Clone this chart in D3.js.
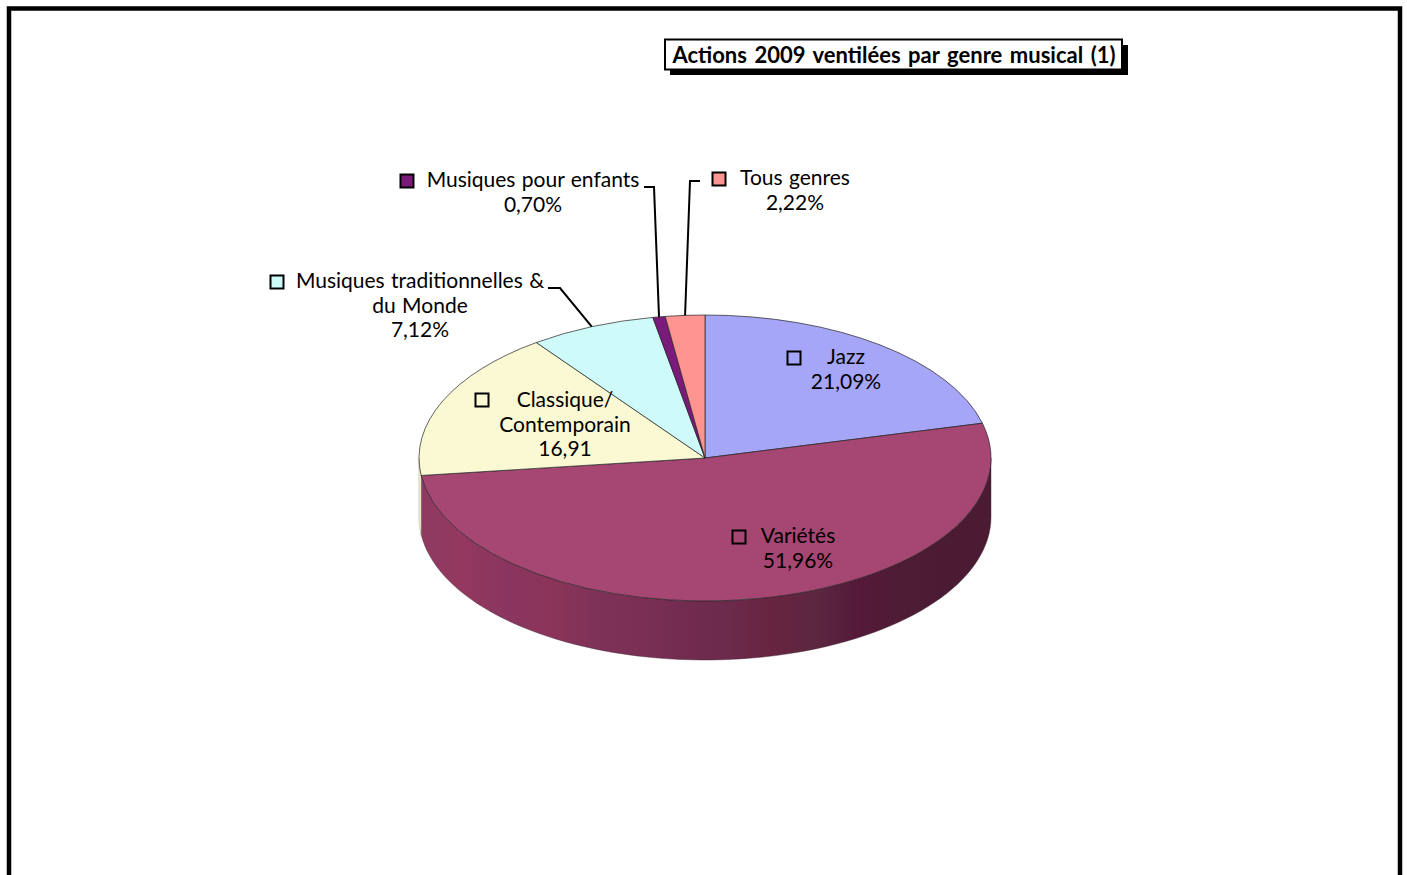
<!DOCTYPE html>
<html>
<head>
<meta charset="utf-8">
<script src="https://cdn.jsdelivr.net/npm/d3@7"></script>
<style>
  body { margin: 0; background: white; }
  svg { display: block; }
  text { font-family: "Comic Sans MS", "Lato", sans-serif; fill: #000; }
</style>
</head>
<body>
<div id="chart"></div>
<script>
const chartTitle = "Actions 2009 ventilées par genre musical (1)";
const categories = ["Jazz", "Variétés", "Classique", "Traditionnelles", "Enfants", "Tous genres"];
const values = [21.09, 51.96, 16.91, 7.12, 0.70, 2.22];
const colors = ["#a6a6f8", "#a64672", "#fbf9d3", "#cffafa", "#7a1a7a", "#ff9490"];
const labelLines = [
  ["Jazz", "21,09%"],
  ["Variétés", "51,96%"],
  ["Classique/", "Contemporain", "16,91"],
  ["Musiques traditionnelles &", "du Monde", "7,12%"],
  ["Musiques pour enfants", "0,70%"],
  ["Tous genres", "2,22%"]
];
// band colours of the side wall, left to right
const wallShades = ["#8f3a62", "#93385f", "#8a3560", "#8c3459", "#7e3258", "#7c2f55", "#722c50", "#6c2a4c", "#68243f", "#5c2741", "#55193a", "#4e1c35", "#4a1b33", "#4a1b33"];

const width = 1407, height = 875;
const cx = 705, cy = 458, rx = 286, ry = 143, depth = 59;

// label placement : x centre, first baseline, legend key, leader elbow
const labelPos = [
  { x: 846, y: 364, keyX: 794, keyY: 358 },
  { x: 798, y: 543, keyX: 739, keyY: 537 },
  { x: 565, y: 407, keyX: 482, keyY: 400 },
  { x: 420, y: 288, keyX: 277, keyY: 282, leader: [[548, 288], [560, 288]] },
  { x: 533, y: 187, keyX: 407, keyY: 181, leader: [[644, 187], [654, 187]] },
  { x: 795, y: 185, keyX: 719, keyY: 179, leader: [[700, 181], [690, 181]] }
];

const svg = d3.select("#chart")
  .append("svg")
  .attr("width", width)
  .attr("height", height);

// outer frame, runs off the bottom of the page
svg.append("rect")
  .attr("x", 9)
  .attr("y", 8.5)
  .attr("width", 1391)
  .attr("height", 920)
  .attr("fill", "white")
  .attr("stroke", "#000")
  .attr("stroke-width", 4.5);

// title box
svg.append("rect")
  .attr("x", 670).attr("y", 45)
  .attr("width", 458).attr("height", 30)
  .attr("fill", "#000");
svg.append("rect")
  .attr("x", 665).attr("y", 39.5)
  .attr("width", 457).attr("height", 30)
  .attr("fill", "white")
  .attr("stroke", "#000")
  .attr("stroke-width", 2);
svg.append("text")
  .attr("x", 894)
  .attr("y", 63)
  .attr("text-anchor", "middle")
  .attr("font-size", 22)
  .attr("font-weight", 700)
  .attr("word-spacing", 2.2)
  .text(chartTitle);

const pie = d3.pie().sort(null).startAngle(0).endAngle(2 * Math.PI);
const slices = pie(values);

const px = a => cx + rx * Math.sin(a);
const py = a => cy - ry * Math.cos(a);

// side wall
const defs = svg.append("defs");
const grad = defs.append("linearGradient")
  .attr("id", "wallGrad")
  .attr("gradientUnits", "userSpaceOnUse")
  .attr("x1", cx - rx).attr("x2", cx + rx)
  .attr("y1", 0).attr("y2", 0);
wallShades.forEach((c, i) => {
  grad.append("stop")
    .attr("offset", i / (wallShades.length - 1))
    .attr("stop-color", c);
});

const wallPath = (a0, a1) => {
  const p = d3.path();
  p.moveTo(px(a0), py(a0));
  p.lineTo(px(a0), py(a0) + depth);
  const steps = 80;
  for (let i = 1; i <= steps; i++) {
    const a = a0 + (a1 - a0) * i / steps;
    p.lineTo(px(a), py(a) + depth);
  }
  for (let i = steps; i >= 0; i--) {
    const a = a0 + (a1 - a0) * i / steps;
    p.lineTo(px(a), py(a));
  }
  p.closePath();
  return p.toString();
};

// only the front half of the cylinder shows
const frontStart = Math.PI / 2, frontEnd = 3 * Math.PI / 2;
const walls = slices.filter(d => d.endAngle > frontStart && d.startAngle < frontEnd);

svg.append("g")
  .selectAll("path")
  .data(walls)
  .join("path")
  .attr("d", d => wallPath(Math.max(d.startAngle, frontStart), Math.min(d.endAngle, frontEnd)))
  .attr("fill", d => d.index === 1 ? "url(#wallGrad)" : colors[d.index])
  .attr("stroke", d => d.index === 1 ? "#3a2030" : "#8a8870")
  .attr("stroke-width", 0.4);

// top face : plain d3 arcs squashed to an ellipse
const arc = d3.arc().innerRadius(0).outerRadius(rx);

svg.append("g")
  .attr("transform", `translate(${cx},${cy}) scale(1,${ry / rx})`)
  .selectAll("path")
  .data(slices)
  .join("path")
  .attr("d", arc)
  .attr("fill", d => colors[d.index])
  .attr("stroke", "#222")
  .attr("stroke-width", 0.7)
  .attr("vector-effect", "non-scaling-stroke");

// leader lines end on the rim, at the middle of the slice
const leaderLine = d3.line();
svg.append("g")
  .selectAll("path")
  .data(slices.filter(d => labelPos[d.index].leader))
  .join("path")
  .attr("d", d => {
    const mid = (d.startAngle + d.endAngle) / 2;
    return leaderLine([...labelPos[d.index].leader, [px(mid), py(mid)]]);
  })
  .attr("fill", "none")
  .attr("stroke", "#000")
  .attr("stroke-width", 2);

// labels
const labels = svg.append("g")
  .selectAll("g")
  .data(slices)
  .join("g");

labels.append("rect")
  .attr("x", d => labelPos[d.index].keyX - 6.5)
  .attr("y", d => labelPos[d.index].keyY - 6.5)
  .attr("width", 13)
  .attr("height", 13)
  .attr("fill", d => colors[d.index])
  .attr("stroke", "#000")
  .attr("stroke-width", 2);

labels.each(function(d) {
  const pos = labelPos[d.index];
  d3.select(this).selectAll("text")
    .data(labelLines[d.index])
    .join("text")
    .attr("x", pos.x)
    .attr("y", (t, i) => pos.y + i * 24.7)
    .attr("text-anchor", "middle")
    .attr("font-size", 21)
    .attr("word-spacing", 1)
    .text(t => t);
});
</script>
</body>
</html>
